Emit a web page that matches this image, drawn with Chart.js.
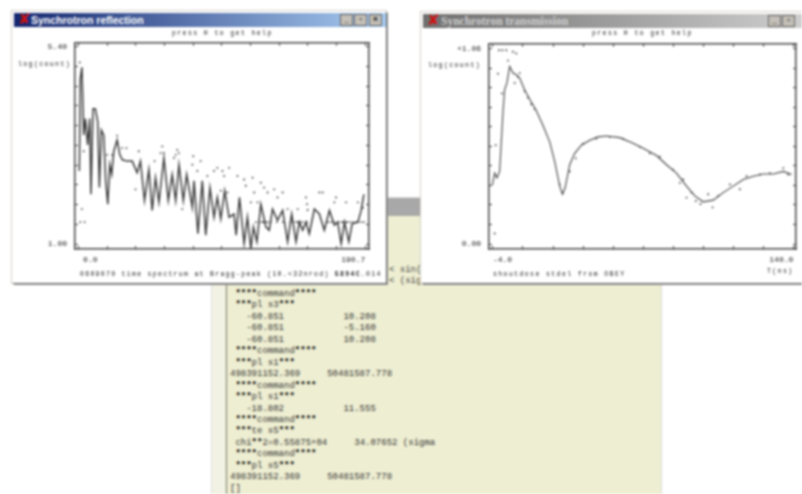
<!DOCTYPE html>
<html><head><meta charset="utf-8">
<script src="https://cdn.jsdelivr.net/npm/chart.js@4"></script>
<style>
html,body{margin:0;padding:0;background:#fff;overflow:hidden}
#page{position:relative;width:802px;height:494px;overflow:hidden;filter:blur(.8px);background:#fff}
.win{position:absolute;background:#fff;box-shadow:1px 1px 0 #666,2px 2px 0 #999,0 0 0 1px #d4d0c8}
.bar{position:absolute;left:2px;right:0;top:2px;height:14px;color:#fff;font:bold 10.5px "Liberation Sans",sans-serif;line-height:14px;padding-left:17px;white-space:nowrap}
.x{position:absolute;left:4px;top:-1px;color:#d01010;font:bold 15px/15px "DejaVu Sans",sans-serif}
.btn{position:absolute;top:1px;width:13px;height:12px;background:#c4c0b8;border:1px solid #666;box-sizing:border-box;color:#222;font:bold 9px/8px "Liberation Sans",sans-serif;text-align:center}
canvas{position:absolute}
.t{position:absolute;font:6.5px "Liberation Mono",monospace;letter-spacing:1.4px;color:#222;white-space:pre}
#term{position:absolute;left:212px;top:198px;width:449px;height:296px;background:#eeeed2;box-shadow:0 0 0 1px #ddd}
#termbar{position:absolute;left:0;top:0;right:0;height:18px;background:#a8a8a8}
#termline{position:absolute;left:14px;top:18px;bottom:0;width:1px;background:#777}
#termstrip{position:absolute;left:0;top:18px;bottom:0;width:13px;background:#f2f2e4}
#termtext{position:absolute;left:18px;top:91px;font:9px/11.45px "Liberation Mono",monospace;color:#333;white-space:pre}
#termtext b{color:#000}
#side{position:absolute;left:389px;top:265px;font:9px/11.45px "Liberation Mono",monospace;color:#444;white-space:pre;z-index:1}
</style></head>
<body><div id="page">
<div id="term"><div id="termbar"></div><div id="termstrip"></div><div id="termline"></div><div id="termtext"></div></div>
<div id="side">&lt; sin(
&lt; (sig</div>
<div class="win" style="left:12px;top:11px;width:374px;height:272px;z-index:2">
  <div class="bar" style="background:linear-gradient(90deg,#14266f,#a9cdf2)">Synchrotron reflection<span class="x">✘</span>
    <span class="btn" style="left:326px">_</span><span class="btn" style="left:340px">▫</span><span class="btn" style="left:355px">×</span></div>
  <canvas id="c1" width="372" height="256" style="left:2px;top:16px"></canvas>
  <div class="t" style="left:160px;top:19px">press H to get help</div>
  <div class="t" style="left:6px;top:50px">log(count)</div>
  <div class="t" style="left:68px;top:260px;letter-spacing:1.3px">0609070 time spectrum at Bragg-peak (10.&lt;32nrod) <b>5894C</b>.014</div>
</div>
<div class="win" style="left:421px;top:12px;width:385px;height:271px;z-index:3">
  <div class="bar" style="background:linear-gradient(90deg,#6e6e6e,#cfcfcf);color:#cfcfcf;font:bold 11.5px 'Liberation Serif',serif;line-height:14px;padding-left:18px">Synchrotron transmission<span class="x">✘</span>
    <span class="btn" style="left:345px">_</span><span class="btn" style="left:359px">▫</span></div>
  <canvas id="c2" width="381" height="255" style="left:2px;top:16px"></canvas>
  <div class="t" style="left:171px;top:18px">press H to get help</div>
  <div class="t" style="left:7px;top:50px">log(count)</div>
  <div class="t" style="left:72px;top:259px">shoutdose stdel from OBEY</div>
  <div class="t" style="left:346px;top:256px">T(ns)</div>
</div>
</div>
<script>
const termLines = [" ****command****"," ***pl s3***","   -60.851           10.208","   -60.851           -5.160","   -60.851           10.208"," ****command****"," ***pl s1***","498391152.369     50481587.778"," ****command****"," ***pl s1***","   -18.802           11.555"," ****command****"," ***te s5***"," chi**2=0.55875+04     34.07652 (sigma"," ****command****"," ***pl s5***","498391152.369     50481587.778","[]"];
document.getElementById('termtext').innerHTML = termLines.join("\n").replace(/\*+/g,'<b>$&</b>');

const reflX = [0.7,1.3,2.4,3.6,4.7,6.2,7.6,8.4,9.8,11.3,12.9,14.0,15.3,16.9,18.2,19.6,20.9,22.2,23.6,25.8,27.6,29.3,32.4,35.8,39.1,41.3,44.0,46.9,49.1,51.3,53.6,56.9,59.8,62.4,64.7,66.9,69.8,72.0,75.8,76.9,79.5,82.4,84.7,87.5,90.2,92.4,94.7,97.3,100.2,103.5,104.9,107.1,110.2,112.4,114.7,116.4,118.7,121.3,124.7,126.9,129.1,132.4,135.8,139.1,141.8,144.7,146.9,149.1,151.3,153.5,156.9,160.2,163.5,166.9,170.2,172.4,174.7,176.9,179.8,182.0,185.8,188.0,189.8];
const reflY = [2.63,4.68,4.94,3.43,3.80,3.21,3.80,2.11,4.02,4.02,3.73,2.26,3.54,3.43,2.41,1.89,2.77,2.55,3.07,3.32,2.99,2.88,2.85,2.85,2.59,2.85,1.97,2.66,1.75,2.48,1.93,2.92,1.97,2.55,1.97,2.77,1.97,2.55,1.82,2.41,1.23,2.41,1.20,2.26,1.60,2.04,1.56,2.19,1.60,1.67,1.20,2.04,1.01,1.60,0.90,1.38,1.05,1.89,1.38,1.31,1.78,1.53,1.75,1.05,1.67,1.05,1.49,1.31,1.49,1.23,1.78,1.67,1.31,1.75,1.42,1.49,1.01,1.49,1.05,1.45,1.49,1.75,2.11];
const reflDotX = [0.9,2.4,4.2,1.3,3.6,19.1,22.4,25.8,29.1,32.0,40.2,38.0,50.7,55.8,56.9,54.7,63.6,65.8,64.7,66.9,76.4,75.8,81.3,79.1,69.1,64.7,85.8,90.2,92.4,95.8,96.9,100.2,105.8,110.2,111.3,115.8,116.9,121.3,123.5,125.8,130.2,135.8,132.4,151.3,152.0,160.2,162.4,171.3,170.2,178.0,185.8,145.8,139.1,152.4,189.1,99.1,94.7,119.1,114.7,118,120,122,123,124.5,126,128,132,136,141,143,145,146,147.5,149,152,166,168,170,173,175,176,178,179,181,183,185,186,188,189.8];
const reflDotY = [5.05,1.78,1.49,1.49,3.07,2.99,2.99,3.42,3.14,3.14,3.07,2.22,2.85,3.18,3.03,3.03,2.92,3.10,2.99,3.03,2.96,2.77,2.85,2.63,1.78,2.08,2.52,2.63,2.70,2.63,2.52,2.70,2.52,2.44,2.30,2.48,2.15,2.37,2.26,2.15,2.22,2.15,2.04,2.04,1.89,2.15,2.15,2.04,1.93,1.93,1.93,1.78,1.78,1.76,1.81,2.15,2.19,1.93,1.93,1.49,1.49,1.49,1.49,1.49,1.49,1.49,1.49,1.49,1.49,1.49,1.49,1.49,1.49,1.49,1.49,1.49,1.49,1.49,1.49,1.49,1.49,1.49,1.49,1.49,1.49,1.49,1.49,1.49,1.49];
const reflXTicks = [0,19.07,38.14,57.21,76.28,95.35,114.42,133.49,152.56,171.63,190.7];
const reflYTicks = [1.00,1.44,1.88,2.32,2.76,3.20,3.64,4.08,4.52,4.96,5.40];

const transX = [-4.3,-3.2,-2.1,-0.8,0.8,1.6,2.7,4.0,5.6,7.2,8.8,11.2,13.6,16.8,20.0,23.2,25.6,28.0,29.3,30.6,32.8,35.2,38.4,42.4,46.4,50.4,56.8,62.4,68.0,74.4,79.2,84.0,88.8,92.8,96.8,101.6,106.4,111.2,116.0,120.8,125.6,130.4,135.2,139.2];
const transY = [0.320,0.385,0.359,0.394,0.714,0.838,0.874,0.963,0.927,0.918,0.900,0.835,0.785,0.723,0.643,0.554,0.448,0.314,0.270,0.305,0.430,0.492,0.536,0.563,0.581,0.586,0.577,0.551,0.519,0.480,0.430,0.385,0.314,0.261,0.229,0.238,0.279,0.314,0.350,0.368,0.380,0.380,0.394,0.377];
const transDotX = [-1.1,0.5,2.4,5.6,7.2,3.2,-1.6,0.3,-2.7,-3.2,6.4,8.8,12.8,14.4,16.0,8.0,11.2,28.0,29.6,32.8,35.7,39.2,45.6,52.0,58.4,66.4,71.2,76.0,82.4,85.6,87.2,88.8,91.2,93.3,95.5,99.2,101.3,104.0,109.6,114.4,117.6,124.0,128.8,135.2,137.6];
const transDotY = [1.051,1.051,1.051,1.043,1.034,0.995,0.924,0.817,0.536,0.057,0.874,0.927,0.794,0.758,0.732,0.906,0.829,0.323,0.279,0.394,0.465,0.545,0.572,0.581,0.572,0.527,0.492,0.474,0.403,0.332,0.350,0.252,0.279,0.234,0.217,0.270,0.199,0.261,0.323,0.297,0.368,0.377,0.385,0.412,0.377];
const transXTicks = [-4,10.4,24.8,39.2,53.6,68,82.4,96.8,111.2,125.6,140];
const transYTicks = [0,0.106,0.212,0.318,0.424,0.53,0.636,0.742,0.848,0.954,1.06];

const zip = (a,b)=>a.map((v,i)=>({x:v,y:b[i]}));
const fontT = {family:'"Liberation Mono",monospace',size:8};

function makeChart(id, cfg){
  const setTicks = list => sc => { sc.ticks = list.map(v=>({value:v})); };
  const fixH = h => sc => { sc.height = h; };
  const fixW = w => sc => { sc.width = w; };
  const border = {display:true,color:'#444',width:1.5};
  const grid = {drawOnChartArea:false,drawTicks:true,tickLength:-3,tickColor:'#444',tickWidth:1};
  new Chart(document.getElementById(id),{
    type:'line',
    data:{datasets:[
      {data:zip(cfg.lx,cfg.ly),borderColor:cfg.lineColor,borderWidth:cfg.lineWidth,pointRadius:0,tension:0,xAxisID:'x',yAxisID:'y'},
      {data:zip(cfg.dx,cfg.dy),showLine:false,pointRadius:.9,pointBackgroundColor:'#333',pointBorderWidth:0,xAxisID:'x',yAxisID:'y'}
    ]},
    options:{
      responsive:false,animation:false,
      layout:{padding:0},
      plugins:{legend:{display:false},tooltip:{enabled:false}},
      scales:{
        x:{type:'linear',position:'bottom',min:cfg.xmin,max:cfg.xmax,border,grid,
           afterBuildTicks:setTicks(cfg.xt),afterFit:fixH(cfg.bottom),
           ticks:{maxRotation:0,autoSkip:false,align:'inner',color:'#222',font:fontT,padding:9,
             callback:(v,i)=> i===0 ? cfg.xLabels[0] : i===cfg.xt.length-1 ? cfg.xLabels[1] : ''}},
        x2:{type:'linear',position:'top',min:cfg.xmin,max:cfg.xmax,border,grid,
           afterBuildTicks:setTicks(cfg.xt),afterFit:fixH(cfg.top),ticks:{display:false}},
        y:{type:'linear',position:'left',min:cfg.ymin,max:cfg.ymax,border,grid,
           afterBuildTicks:setTicks(cfg.yt),afterFit:fixW(cfg.left),
           ticks:{autoSkip:false,color:'#222',font:fontT,padding:11,
             callback:(v,i)=> i===0 ? cfg.yLabels[0] : i===cfg.yt.length-1 ? cfg.yLabels[1] : ''}},
        y2:{type:'linear',position:'right',min:cfg.ymin,max:cfg.ymax,border,grid,
           afterBuildTicks:setTicks(cfg.yt),afterFit:fixW(cfg.right),ticks:{display:false}}
      }
    }
  });
}
makeChart('c1',{lx:reflX,ly:reflY,dx:reflDotX,dy:reflDotY,xt:reflXTicks,yt:reflYTicks,
  xmin:-2.2,xmax:193.2,ymin:0.89,ymax:5.488,xLabels:['\u00a00.0','190.7'],yLabels:['1.00','5.40'],
  lineColor:'#3a3a3a',lineWidth:1.5,left:61,right:17,top:13,bottom:34});
makeChart('c2',{lx:transX,ly:transY,dx:transDotX,dy:transDotY,xt:transXTicks,yt:transYTicks,
  xmin:-5.9,xmax:141.3,ymin:-0.027,ymax:1.086,xLabels:['-4.0','140.0'],yLabels:['0.00','+1.06'],
  lineColor:'#444',lineWidth:1.1,left:66,right:8,top:13,bottom:34});
</script>
</body></html>
